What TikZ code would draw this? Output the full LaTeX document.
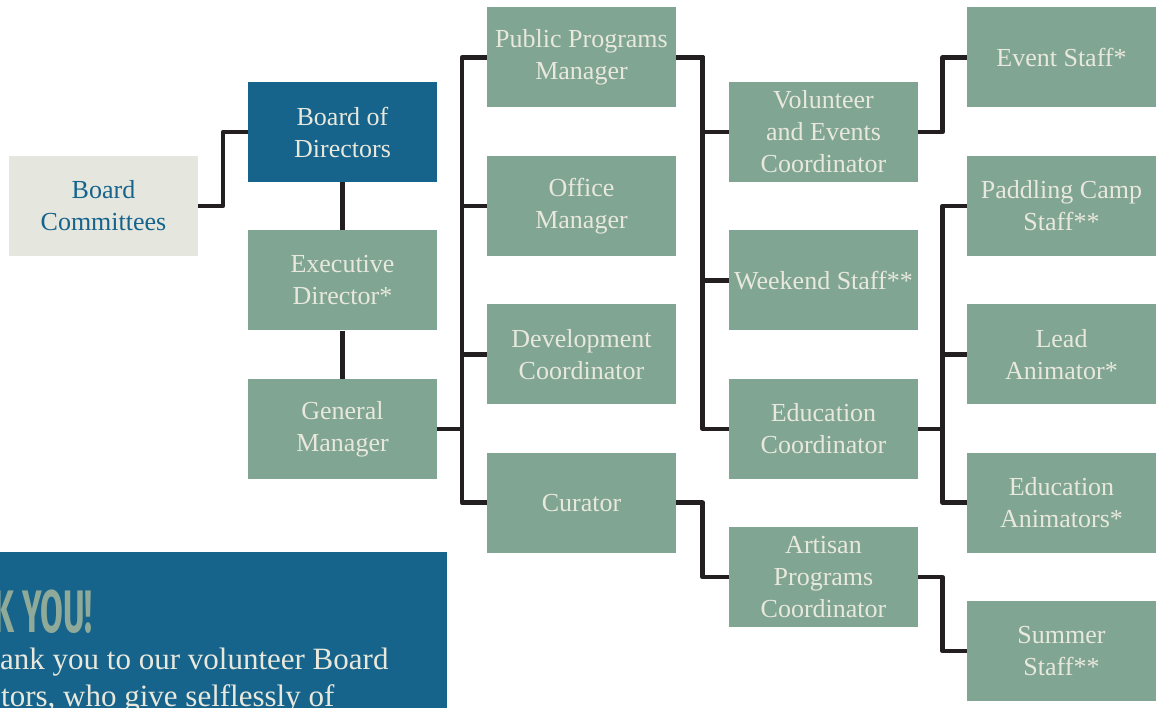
\documentclass[tikz,border=0pt]{standalone}
\usepackage{fontspec}
\setmainfont{Liberation Serif}
\newfontfamily\thanksfont[FakeStretch=0.55]{Fira Sans}
\usetikzlibrary{positioning, calc}
\definecolor{sage}{HTML}{80A593}
\definecolor{deepblue}{HTML}{16638C}
\definecolor{paper}{HTML}{E5E6DE}
\definecolor{ink}{HTML}{231F20}
\definecolor{cream}{HTML}{E8E8DC}
\definecolor{mint}{HTML}{8FAA98}

\tikzset{
  box/.style={minimum width=189pt, minimum height=100pt, inner sep=0pt, align=center, text=cream, font=\fontsize{26}{32}\selectfont},
  staff/.style={box, fill=sage},
  board/.style={box, fill=deepblue},
  committee/.style={box, fill=paper, text=deepblue},
  link/.style={ink, line width=4.5pt, line join=round}
}

\begin{document}
\begin{tikzpicture}[x=1pt, y=-1pt]
\useasboundingbox (0,0) rectangle (1159,708);
% first column
\node[committee] (BC) at (103.5,206) {Board\\Committees};
\node[board] (BD) at (342.5,132) {Board of\\Directors};
\node[staff, below=48pt of BD] (ED) {Executive\\Director*};
\node[staff, below=48pt of ED] (GM) {General\\Manager};
% managers
\node[staff] (PP) at (581.5,57.5) {Public Programs\\Manager};
\node[staff, below=48pt of PP] (OM) {Office\\Manager};
\node[staff, below=48pt of OM] (DC) {Development\\Coordinator};
\node[staff, below=48pt of DC] (CU) {Curator};
% coordinators
\node[staff] (VE) at (823.5,132) {Volunteer\\and Events\\Coordinator};
\node[staff, below=48pt of VE] (WS) {Weekend Staff**};
\node[staff, below=48pt of WS] (EC) {Education\\Coordinator};
\node[staff, below=48pt of EC] (AP) {Artisan\\Programs\\Coordinator};
% staff
\node[staff] (ES) at (1061.5,57.5) {Event Staff*};
\node[staff, below=48pt of ES] (PC) {Paddling Camp\\Staff**};
\node[staff, below=48pt of PC] (LA) {Lead\\Animator*};
\node[staff, below=48pt of LA] (EA) {Education\\Animators*};
\node[staff, below=48pt of EA] (SS) {Summer\\Staff**};
% links
\draw[link] (BD) -- (ED);
\draw[link] (ED) -- (GM);
\foreach \a/\b in {BC/BD,GM/PP,GM/OM,GM/DC,GM/CU,PP/VE,PP/WS,PP/EC,CU/AP,VE/ES,EC/PC,EC/LA,EC/EA,AP/SS} {
  \draw[link] (\a.east) -| ($(\a.east)!.5!(\b.west)$) |- (\b.west);
}
% thank you panel
\begin{scope}
\clip (0,552) rectangle (447,708);
\fill[deepblue] (0,552) rectangle (447,708);
\node[anchor=base east, inner sep=0pt, text=mint, font=\thanksfont\bfseries\fontsize{60}{60}\selectfont] (TY) at (93,632) {K YOU!};
\node[anchor=base west, inner sep=0pt, text=cream, font=\fontsize{31}{37}\selectfont] (L1) at (0,669) {ank you to our volunteer Board};
\node[anchor=base west, inner sep=0pt, text=cream, font=\fontsize{31}{37}\selectfont] (L2) at (1,706) {tors, who give selflessly of};
\end{scope}
\end{tikzpicture}
\end{document}
